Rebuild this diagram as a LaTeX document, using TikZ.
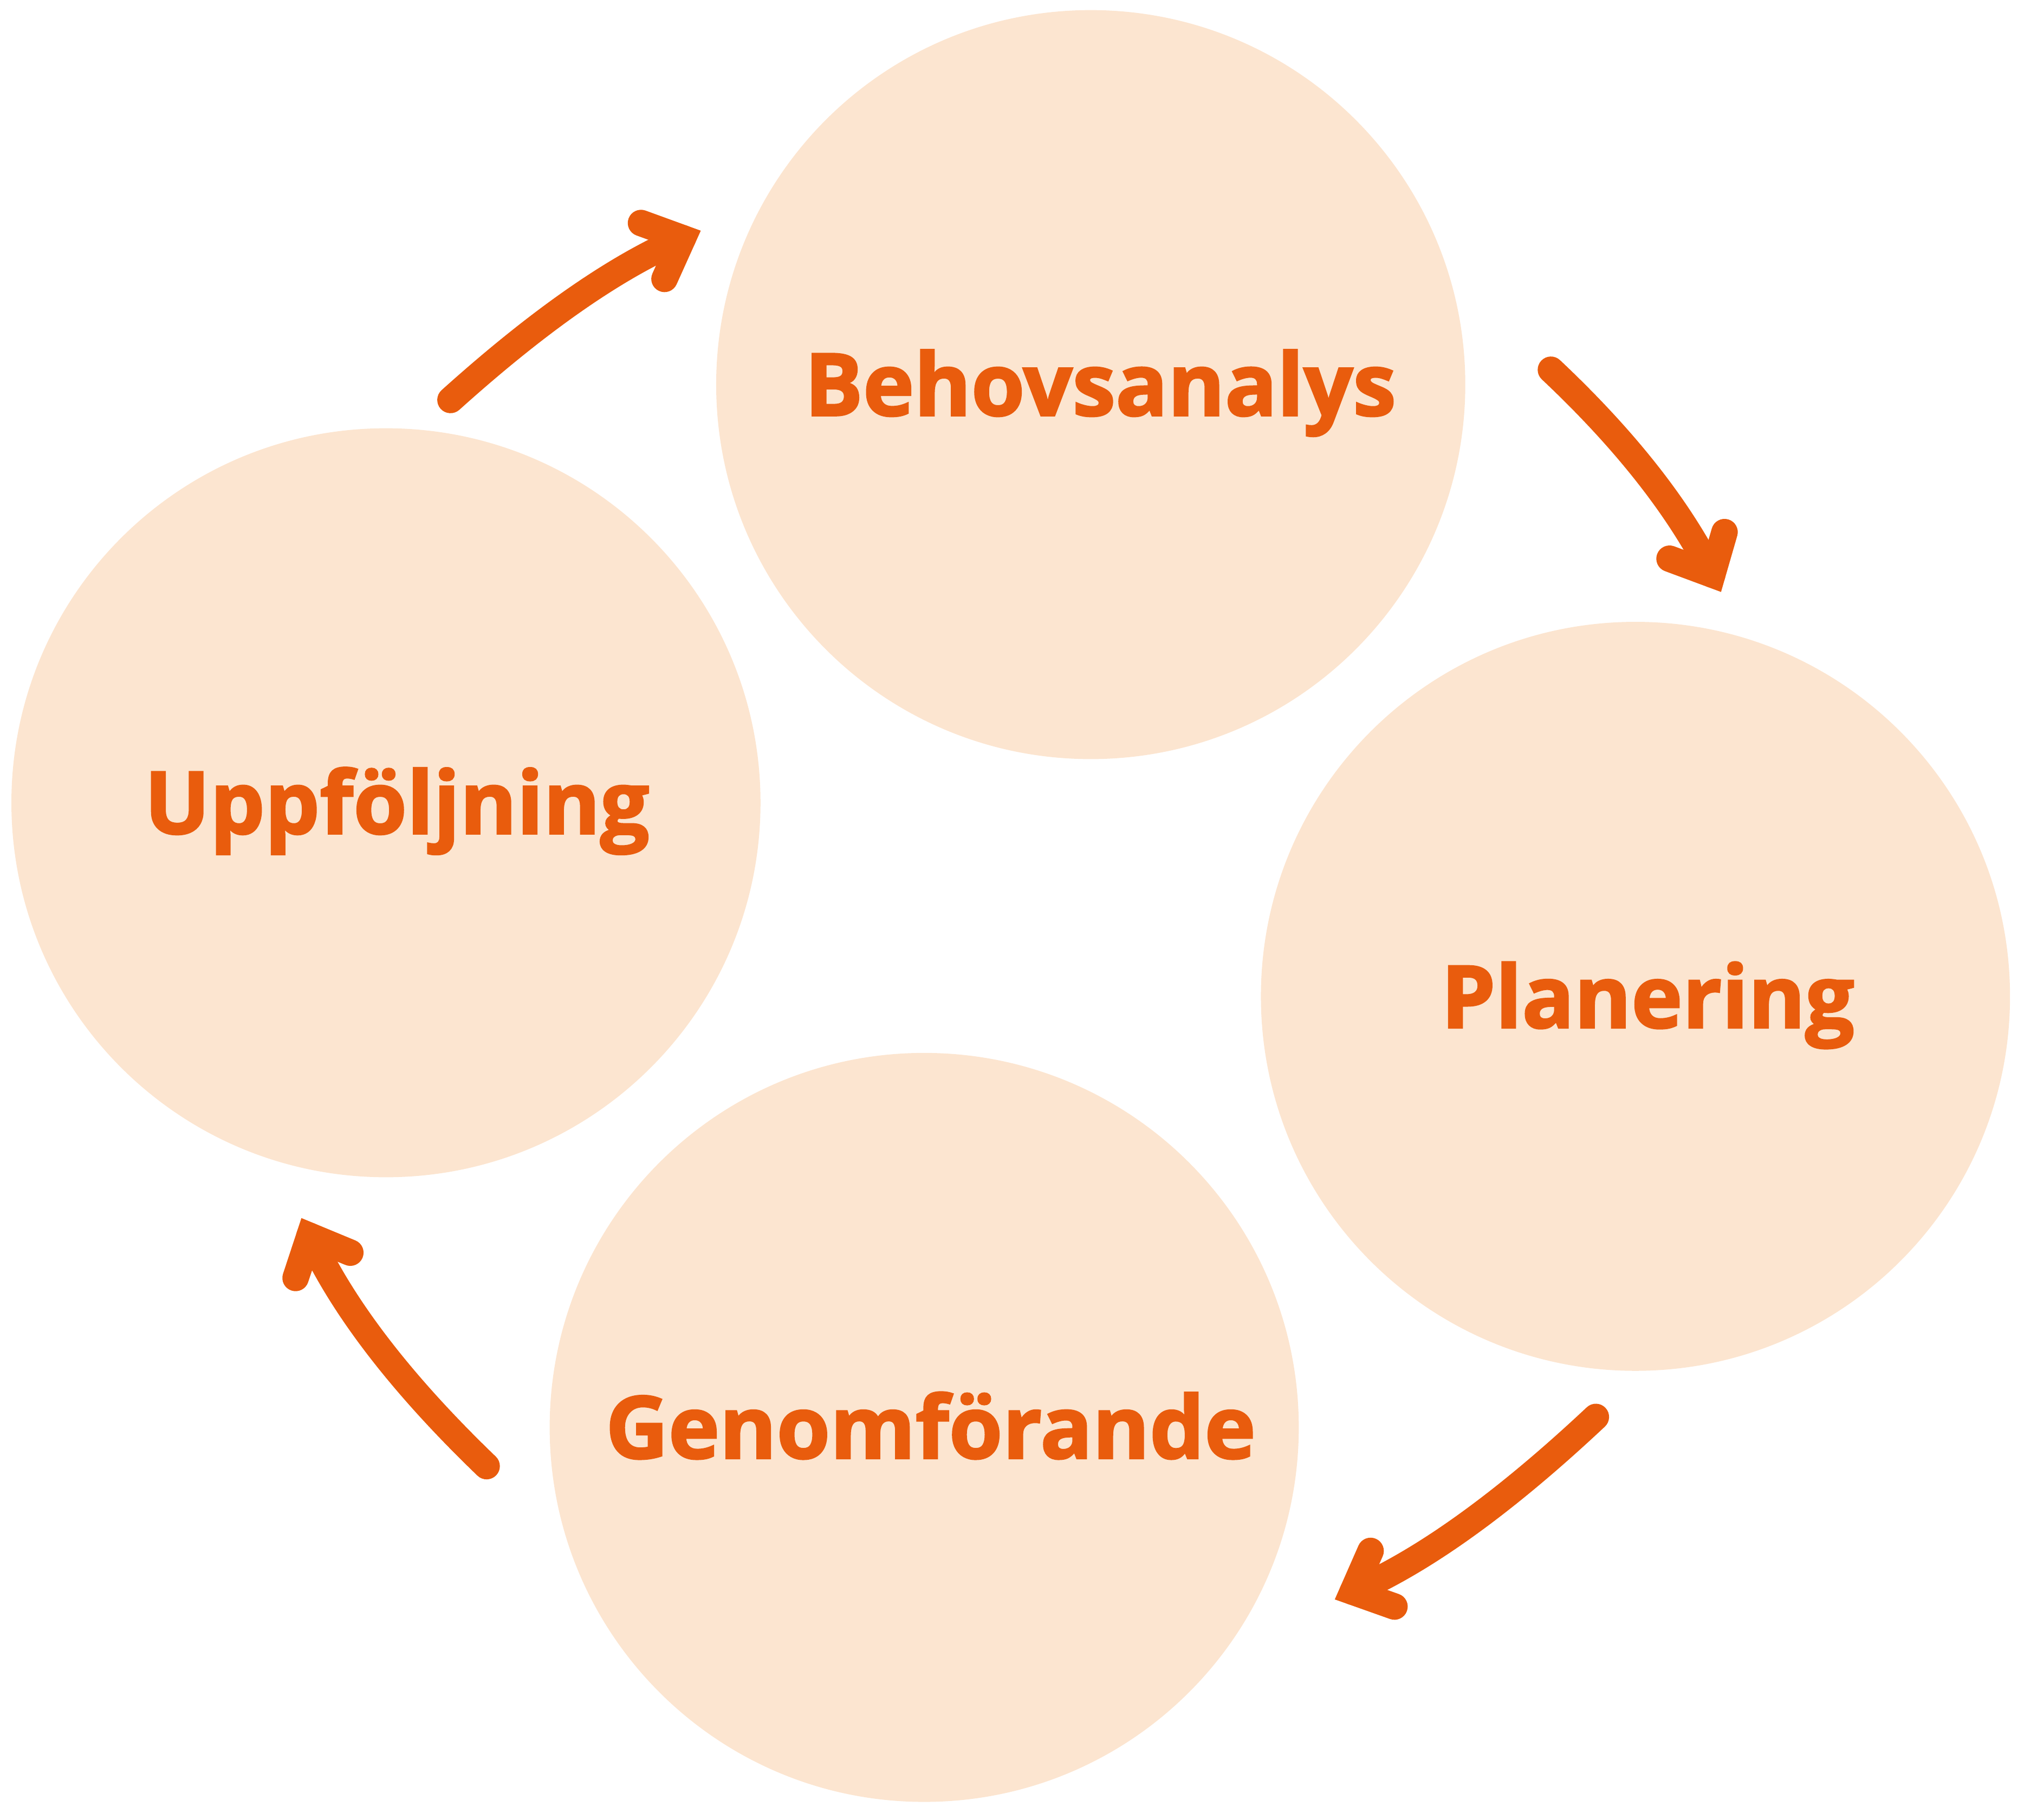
\documentclass[tikz,border=0pt]{standalone}
\usepackage{fontspec}
\newfontfamily\labelfont{Open Sans}[BoldFeatures={FakeBold=2}]
\usetikzlibrary{calc}
\definecolor{peach}{HTML}{FCE5D0}
\definecolor{accent}{HTML}{E95C0D}
\begin{document}
\begin{tikzpicture}[x=0.01cm,y=-0.01cm,
  phase/.style={circle,fill=peach,minimum size=5.8cm,inner sep=0pt},
  phasetext/.style={anchor=base,text=accent,font=\labelfont\bfseries\fontsize{19.1}{23}\selectfont,inner sep=0pt},
  shaft/.style={draw=accent,line width=0.205cm,line cap=round},
  head/.style={draw=accent,line width=0.205cm,line cap=round,line join=miter,miter limit=10}]
\useasboundingbox (0,0) rectangle (1568,1410.2);
% circles
\node[phase] (beh) at (845,298) {};
\node[phase] (upp) at (299,622) {};
\node[phase] (pla) at (1267,772) {};
\node[phase] (gen) at (716,1106) {};
% labels
\node[phasetext] (tbeh) at (852.5,322) {Behovsanalys};
\node[phasetext] (tupp) at (307.5,646) {Uppföljning};
\node[phasetext] (tpla) at (1276.5,796.4) {Planering};
\node[phasetext] (tgen) at (721,1130) {Genomförande};
% arrow 1: Uppföljning -> Behovsanalys
\coordinate (a1s) at (349,309.9);
\coordinate (a1q) at (451.9,217.3);
\coordinate (a1v) at (529.0,184.6);
\coordinate (a1l) at (496.6,172.8);
\coordinate (a1r) at (514.8,216.1);
\draw[shaft] (a1s) .. controls ($(a1s)!0.6667!(a1q)$) and ($(a1v)!0.6667!(a1q)$) .. (a1v);
\draw[head] (a1l) -- (a1v) -- (a1r);
% arrow 2: Behovsanalys -> Planering
\coordinate (a2s) at (1201.5,286.5);
\coordinate (a2q) at (1287.6,367.6);
\coordinate (a2v) at (1326.5,445.2);
\coordinate (a2l) at (1336,412.3);
\coordinate (a2r) at (1293.4,432.9);
\draw[shaft] (a2s) .. controls ($(a2s)!0.6667!(a2q)$) and ($(a2v)!0.6667!(a2q)$) .. (a2v);
\draw[head] (a2l) -- (a2v) -- (a2r);
% arrow 3: Planering -> Genomförande
\coordinate (a3s) at (1236.3,1097.9);
\coordinate (a3q) at (1129.4,1198.2);
\coordinate (a3v) at (1047.9,1233.3);
\coordinate (a3l) at (1061.8,1201.7);
\coordinate (a3r) at (1080.3,1244.8);
\draw[shaft] (a3s) .. controls ($(a3s)!0.6667!(a3q)$) and ($(a3v)!0.6667!(a3q)$) .. (a3v);
\draw[head] (a3l) -- (a3v) -- (a3r);
% arrow 4: Genomförande -> Uppföljning
\coordinate (a4s) at (377,1136);
\coordinate (a4q) at (277.9,1040.6);
\coordinate (a4v) at (239.8,957.5);
\coordinate (a4l) at (271.4,970.6);
\coordinate (a4r) at (229.0,990.2);
\draw[shaft] (a4s) .. controls ($(a4s)!0.6667!(a4q)$) and ($(a4v)!0.6667!(a4q)$) .. (a4v);
\draw[head] (a4l) -- (a4v) -- (a4r);
\end{tikzpicture}
\end{document}
